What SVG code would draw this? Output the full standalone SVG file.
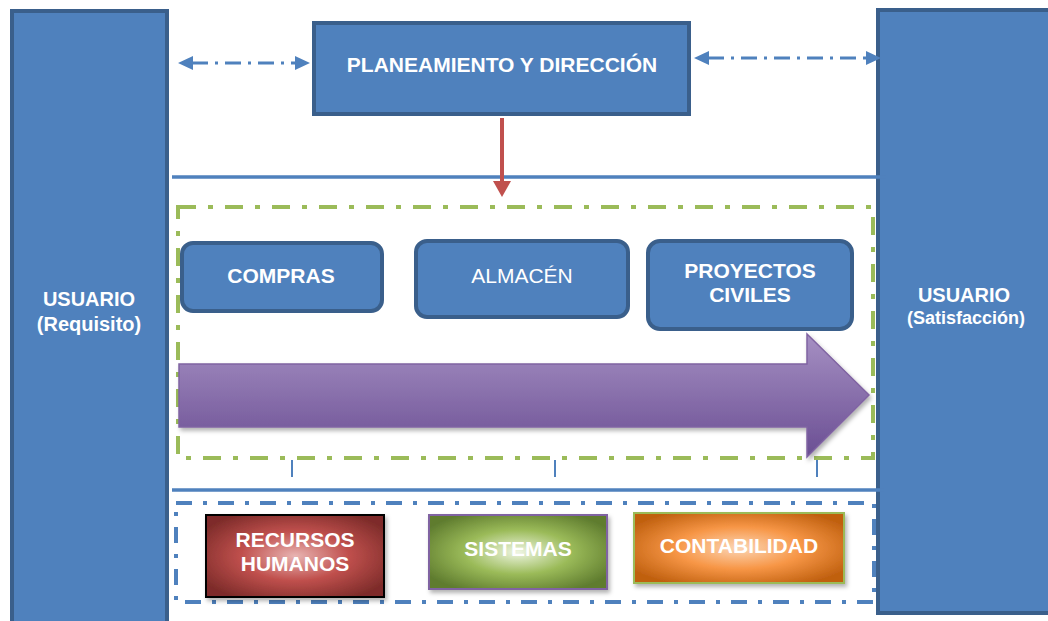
<svg xmlns="http://www.w3.org/2000/svg" width="1048" height="621" viewBox="0 0 1048 621">
<defs>
<style>
.box{fill:#4F81BD;stroke:#3A5F8B;stroke-width:4}
.t{font-family:"Liberation Sans",Arial,sans-serif;font-weight:bold;fill:#fff;text-anchor:middle}
.tn{font-family:"Liberation Sans",Arial,sans-serif;fill:#fff;text-anchor:middle}
.hl{stroke:#4F81BD;stroke-width:3.5}
.tick{stroke:#4F81BD;stroke-width:2}
.da{stroke:#4F81BD;stroke-width:3;stroke-dasharray:16,7,3,7;fill:none}
.ah{fill:#4F81BD}
</style>
<linearGradient id="pg" x1="0" y1="0" x2="0" y2="1">
<stop offset="0" stop-color="#A690C3"/>
<stop offset="1" stop-color="#6A4E93"/>
</linearGradient>
<radialGradient id="rg" cx="0.5" cy="0.5" r="0.6">
<stop offset="0" stop-color="#E8B4B2"/>
<stop offset="0.5" stop-color="#C0504D"/>
<stop offset="1" stop-color="#7E2C2A"/>
</radialGradient>
<radialGradient id="gg" cx="0.5" cy="0.5" r="0.6">
<stop offset="0" stop-color="#EEF5E2"/>
<stop offset="0.5" stop-color="#9BBB59"/>
<stop offset="1" stop-color="#5E7B2E"/>
</radialGradient>
<radialGradient id="og" cx="0.5" cy="0.5" r="0.6">
<stop offset="0" stop-color="#FBD5B5"/>
<stop offset="0.5" stop-color="#F79646"/>
<stop offset="1" stop-color="#C0600F"/>
</radialGradient>
<filter id="sh" x="-10%" y="-10%" width="130%" height="140%">
<feDropShadow dx="2" dy="3" stdDeviation="2" flood-color="#000" flood-opacity="0.3"/>
</filter>
</defs>

<g id="usuario-requisito">
<rect class="box" x="12" y="11" width="155" height="620"/>
<text class="t" x="89" y="306" font-size="20">USUARIO</text>
<text class="t" x="89" y="331" font-size="20">(Requisito)</text>
</g>

<g id="usuario-satisfaccion">
<rect class="box" x="878" y="10" width="180" height="603"/>
<text class="t" x="964" y="302" font-size="20">USUARIO</text>
<text class="t" x="966" y="324" font-size="18">(Satisfacción)</text>
</g>

<g id="planeamiento">
<rect class="box" x="314" y="23" width="375" height="91"/>
<text class="t" x="502" y="72" font-size="21">PLANEAMIENTO Y DIRECCIÓN</text>
</g>

<g id="frames">
<line class="hl" x1="172" y1="177" x2="886" y2="177"/>
<line class="hl" x1="172" y1="490" x2="884" y2="490"/>
<rect x="178" y="207" width="695" height="251" fill="none" stroke="#9BBB59" stroke-width="4" stroke-dasharray="18,12,5,12"/>
<rect x="176" y="503" width="698" height="99" fill="none" stroke="#4F81BD" stroke-width="4" stroke-dasharray="16,11,4,11"/>
<line class="tick" x1="292" y1="460" x2="292" y2="477"/>
<line class="tick" x1="555" y1="460" x2="555" y2="477"/>
<line class="tick" x1="817" y1="460" x2="817" y2="477"/>
</g>

<g id="compras">
<rect class="box" x="182" y="243" width="200" height="68" rx="11"/>
<text class="t" x="281" y="283" font-size="21">COMPRAS</text>
</g>

<g id="almacen">
<rect class="box" x="416" y="241" width="212" height="76" rx="11"/>
<text class="tn" x="522" y="283" font-size="21">ALMACÉN</text>
</g>

<g id="proyectos-civiles">
<rect class="box" x="648" y="241" width="204" height="88" rx="12"/>
<text class="t" x="750" y="278" font-size="21">PROYECTOS</text>
<text class="t" x="750" y="302" font-size="21">CIVILES</text>
</g>

<g id="flujo">
<path d="M179,364 L807,364 L807,334 L869,395 L807,457 L807,427 L179,427 Z" fill="url(#pg)" stroke="#8064A2" stroke-width="1.5" filter="url(#sh)"/>
</g>

<g id="recursos-humanos">
<rect x="206" y="515" width="178" height="82" fill="url(#rg)" stroke="#000" stroke-width="2" filter="url(#sh)"/>
<text class="t" x="295" y="547" font-size="21">RECURSOS</text>
<text class="t" x="295" y="571" font-size="21">HUMANOS</text>
</g>

<g id="sistemas">
<rect x="429" y="515" width="178" height="74" fill="url(#gg)" stroke="#8064A2" stroke-width="2" filter="url(#sh)"/>
<text class="t" x="518" y="556" font-size="21">SISTEMAS</text>
</g>

<g id="contabilidad">
<rect x="634" y="513" width="210" height="70" fill="url(#og)" stroke="#9BBB59" stroke-width="2" filter="url(#sh)"/>
<text class="t" x="739" y="553" font-size="21">CONTABILIDAD</text>
</g>

<g id="connectors">
<line class="da" x1="192" y1="63" x2="296" y2="63"/>
<path class="ah" d="M178,63 L193,56 L193,70 Z"/>
<path class="ah" d="M310,63 L295,56 L295,70 Z"/>
<line class="da" x1="708" y1="58" x2="866" y2="58"/>
<path class="ah" d="M694,58 L709,51 L709,65 Z"/>
<path class="ah" d="M881,58 L866,51 L866,65 Z"/>
<line x1="502" y1="118" x2="502" y2="182" stroke="#C0504D" stroke-width="4"/>
<path d="M493,181 L511,181 L502,197 Z" fill="#C0504D"/>
</g>
</svg>
